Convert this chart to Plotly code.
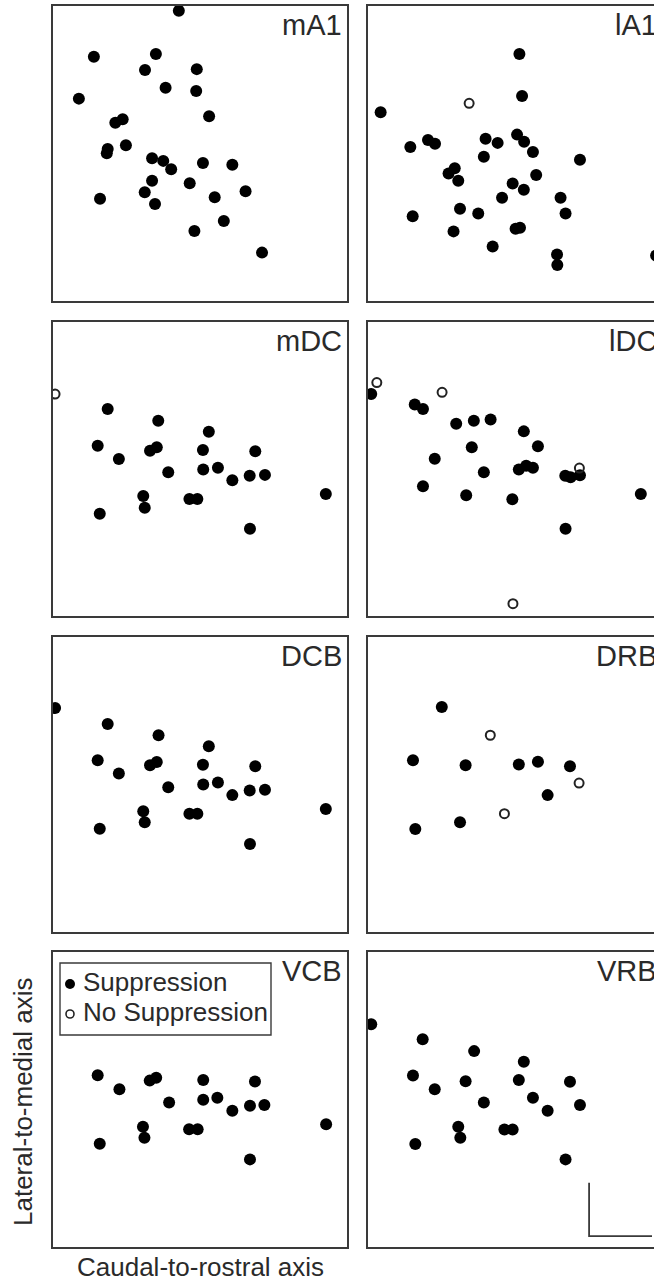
import plotly.graph_objects as go

# ---------------- data (arbitrary position units 0-100) ----------------
panel_names = ["mA1", "lA1", "mDC", "lDC", "DCB", "DRB", "VCB", "VRB"]

mA1_sup_x = [42.8, 13.9, 35.0, 31.3, 48.9, 38.3, 48.7, 8.8, 53.1, 23.7, 21.2, 24.8, 18.6, 18.3, 33.7,
             37.5, 40.2, 51.0, 61.0, 33.7, 46.5, 31.2, 16.0, 55.0, 65.5, 34.7, 58.1, 48.1, 71.1]
mA1_sup_y = [98.4, 82.8, 83.7, 78.3, 78.6, 72.3, 71.2, 68.6, 62.6, 61.6, 60.4, 52.8, 51.5, 50.1, 48.4,
             47.5, 44.7, 46.8, 46.2, 40.8, 39.9, 36.9, 34.7, 35.2, 37.2, 32.9, 27.1, 23.7, 16.4]
mA1_nos_x = []
mA1_nos_y = []

lA1_sup_x = [51.5, 52.4, 4.3, 50.7, 53.1, 40.0, 44.1, 20.4, 22.8, 14.4, 56.1, 39.4, 72.1, 29.5, 27.4, 30.7,
             57.2, 49.2, 53.0, 45.6, 65.5, 67.2, 15.2, 31.3, 37.5, 29.1, 50.2, 51.7, 42.4, 64.3, 64.4, 98.0]
lA1_sup_y = [83.7, 69.5, 64.0, 56.4, 54.0, 55.0, 53.6, 54.6, 53.3, 52.2, 50.5, 48.9, 47.9, 45.0, 43.2, 40.8,
             42.7, 39.8, 37.7, 35.0, 35.0, 29.7, 28.7, 31.3, 29.7, 23.6, 24.5, 24.8, 18.5, 15.8, 12.2, 15.4]
lA1_nos_x = [34.4]
lA1_nos_y = [67.0]

mDC_sup_x = [18.6, 35.8, 53.0, 15.2, 33.0, 35.3, 51.0, 68.8, 22.4, 51.1, 56.1, 39.2, 61.0, 66.9, 72.1,
             30.7, 31.2, 46.4, 49.1, 92.8, 15.9, 67.0]
mDC_sup_y = [70.4, 66.4, 62.7, 57.9, 56.2, 57.4, 56.5, 56.0, 53.4, 49.8, 50.4, 48.9, 46.2, 47.7, 48.0,
             40.8, 36.8, 39.8, 39.8, 41.5, 34.8, 29.7]
mDC_nos_x = [0.7]
mDC_nos_y = [75.5]

lDC_sup_x = [1.1, 15.9, 18.7, 30.0, 36.0, 41.7, 53.0, 35.3, 57.8, 22.7, 39.4, 51.3, 53.8, 56.1, 67.1,
             68.9, 72.1, 18.7, 33.4, 49.1, 92.8, 67.2]
lDC_sup_y = [75.5, 71.9, 70.4, 65.4, 66.4, 66.8, 62.8, 57.4, 57.7, 53.5, 48.9, 49.8, 51.1, 50.4, 47.7,
             47.2, 47.9, 44.1, 41.1, 39.7, 41.5, 29.7]
lDC_nos_x = [3.0, 25.2, 71.9, 49.3]
lDC_nos_y = [79.4, 76.1, 50.3, 4.2]

DCB_sup_x = [0.7, 18.6, 35.9, 53.0, 15.2, 33.0, 35.3, 51.0, 68.8, 22.4, 51.1, 56.1, 39.2, 61.0, 66.9,
             72.1, 30.7, 31.2, 46.4, 49.1, 92.8, 15.9, 67.0]
DCB_sup_y = [75.9, 70.5, 66.7, 63.0, 58.2, 56.5, 57.6, 56.7, 56.2, 53.7, 50.0, 50.7, 49.1, 46.4, 48.0,
             48.2, 40.9, 37.2, 40.1, 40.1, 41.7, 35.0, 29.8]
DCB_nos_x = []
DCB_nos_y = []

DRB_sup_x = [25.1, 15.3, 33.2, 51.3, 57.8, 68.7, 61.1, 16.1, 31.3]
DRB_sup_y = [76.3, 58.2, 56.5, 56.8, 57.7, 56.2, 46.4, 34.9, 37.2]
DRB_nos_x = [41.6, 71.8, 46.4]
DRB_nos_y = [66.7, 50.5, 40.1]

VCB_sup_x = [15.2, 22.6, 32.9, 35.1, 51.1, 68.7, 39.5, 51.1, 55.9, 61.0, 67.0, 71.9, 30.6, 31.1, 46.3,
             49.2, 92.9, 15.9, 67.0]
VCB_sup_y = [58.2, 53.5, 56.4, 57.4, 56.6, 56.1, 49.0, 49.9, 50.6, 46.2, 47.9, 48.1, 40.8, 37.0, 39.9,
             39.9, 41.6, 35.0, 29.7]
VCB_nos_x = []
VCB_nos_y = []

VRB_sup_x = [1.1, 18.6, 36.1, 53.0, 15.3, 33.2, 51.3, 68.7, 22.7, 39.4, 56.1, 61.1, 72.1, 30.7, 31.4,
             46.4, 49.2, 16.1, 67.2]
VRB_sup_y = [75.5, 70.4, 66.4, 62.8, 58.1, 56.2, 56.6, 56.0, 53.5, 49.0, 50.6, 46.2, 48.1, 40.8, 37.0,
             39.8, 39.8, 34.9, 29.7]
VRB_nos_x = []
VRB_nos_y = []

# scale bar (in VRB panel units)
scale_bar_x = [75.2, 75.2, 96.6]
scale_bar_y = [21.8, 3.7, 3.7]

legend_labels = ["Suppression", "No Suppression"]
x_title = "Caudal-to-rostral axis"
y_title = "Lateral-to-medial axis"

data = {
    "mA1": (mA1_sup_x, mA1_sup_y, mA1_nos_x, mA1_nos_y),
    "lA1": (lA1_sup_x, lA1_sup_y, lA1_nos_x, lA1_nos_y),
    "mDC": (mDC_sup_x, mDC_sup_y, mDC_nos_x, mDC_nos_y),
    "lDC": (lDC_sup_x, lDC_sup_y, lDC_nos_x, lDC_nos_y),
    "DCB": (DCB_sup_x, DCB_sup_y, DCB_nos_x, DCB_nos_y),
    "DRB": (DRB_sup_x, DRB_sup_y, DRB_nos_x, DRB_nos_y),
    "VCB": (VCB_sup_x, VCB_sup_y, VCB_nos_x, VCB_nos_y),
    "VRB": (VRB_sup_x, VRB_sup_y, VRB_nos_x, VRB_nos_y),
}

# ---------------- layout geometry (pixels) ----------------
W, H = 654, 1281
col_px = [(53, 347), (368, 662)]          # right column runs past the page edge (as in the source)
row_px = [(6, 301), (322, 616), (637, 932), (952, 1247)]
FONT = "Liberation Sans, Arial, Helvetica, sans-serif"
LINE = "#3a3a3a"
TXT = "#2a2a2a"

fig = go.Figure()
layout = dict(
    width=W, height=H, margin=dict(l=0, r=0, t=0, b=0),
    paper_bgcolor="white", plot_bgcolor="white", showlegend=False,
    font=dict(family=FONT, color=TXT),
)
annotations = []
shapes = []

for i, name in enumerate(panel_names):
    r, c = divmod(i, 2)
    ax = i + 1
    xa = "x" if ax == 1 else f"x{ax}"
    ya = "y" if ax == 1 else f"y{ax}"
    x0p, x1p = col_px[c]
    y0p, y1p = row_px[r]
    full_w = x1p - x0p
    vis_x1 = min(x1p, W)
    xmax = 100.0 * (vis_x1 - x0p) / full_w
    xd = [x0p / W, vis_x1 / W]
    yd = [1 - y1p / H, 1 - y0p / H]
    common = dict(showgrid=False, zeroline=False, showticklabels=False, ticks="",
                  showline=True, linecolor=LINE, linewidth=1.6, fixedrange=True)
    layout["xaxis" if ax == 1 else f"xaxis{ax}"] = dict(
        domain=xd, range=[0, xmax], anchor=ya, mirror=True, **common)
    layout["yaxis" if ax == 1 else f"yaxis{ax}"] = dict(
        domain=yd, range=[0, 100], anchor=xa, mirror=(c == 0), **common)

    sx, sy, nx, ny = data[name]
    fig.add_trace(go.Scatter(x=sx, y=sy, mode="markers", xaxis=xa, yaxis=ya,
                             name=legend_labels[0], cliponaxis=True,
                             marker=dict(color="black", size=12, line=dict(width=0))))
    if nx:
        fig.add_trace(go.Scatter(x=nx, y=ny, mode="markers", xaxis=xa, yaxis=ya,
                                 name=legend_labels[1], cliponaxis=True,
                                 marker=dict(symbol="circle-open", color="#222222", size=9,
                                             line=dict(width=2, color="#222222"))))
    # panel label, right-aligned just inside the (full) panel box
    annotations.append(dict(text=name, xref="paper", yref="paper",
                            x=(x1p - 3) / W, y=1 - (y0p + 19) / H,
                            xanchor="right", yanchor="middle", showarrow=False,
                            font=dict(size=29, color=TXT, family=FONT)))
    if name == "VRB":
        fig.add_trace(go.Scatter(x=scale_bar_x, y=scale_bar_y, mode="lines",
                                 xaxis=xa, yaxis=ya, hoverinfo="skip",
                                 line=dict(color=LINE, width=1.8)))

# ---------------- legend (drawn inside the VCB panel) ----------------
lg = dict(x0=60, x1=271, y0=963, y1=1035)
shapes.append(dict(type="rect", xref="paper", yref="paper",
                   x0=lg["x0"] / W, x1=lg["x1"] / W, y0=1 - lg["y1"] / H, y1=1 - lg["y0"] / H,
                   line=dict(color=LINE, width=1.4), fillcolor="white"))
for k, (cy, r_, filled) in enumerate([(984, 5, True), (1014, 4, False)]):
    cx = 70
    shapes.append(dict(type="circle", xref="paper", yref="paper",
                       x0=(cx - r_) / W, x1=(cx + r_) / W,
                       y0=1 - (cy + r_) / H, y1=1 - (cy - r_) / H,
                       fillcolor="black" if filled else "white",
                       line=dict(color="#222222", width=0 if filled else 1.6)))
    annotations.append(dict(text=legend_labels[k], xref="paper", yref="paper",
                            x=81 / W, y=1 - (cy - 2) / H, xanchor="left", yanchor="middle",
                            showarrow=False, font=dict(size=26, color=TXT, family=FONT)))

# ---------------- axis titles ----------------
annotations.append(dict(text=x_title, xref="paper", yref="paper",
                        x=200 / W, y=1 - 1267 / H, xanchor="center", yanchor="middle",
                        showarrow=False, font=dict(size=26, color=TXT, family=FONT)))
annotations.append(dict(text=y_title, xref="paper", yref="paper",
                        x=23 / W, y=1 - 1102 / H, xanchor="center", yanchor="middle",
                        textangle=-90, showarrow=False,
                        font=dict(size=26, color=TXT, family=FONT)))

layout["annotations"] = annotations
layout["shapes"] = shapes
fig.update_layout(**layout)
fig.write_html(
    "out.html",
    config={"displayModeBar": False},
    post_script="document.body.style.margin='0';document.documentElement.style.overflow='hidden';",
)
